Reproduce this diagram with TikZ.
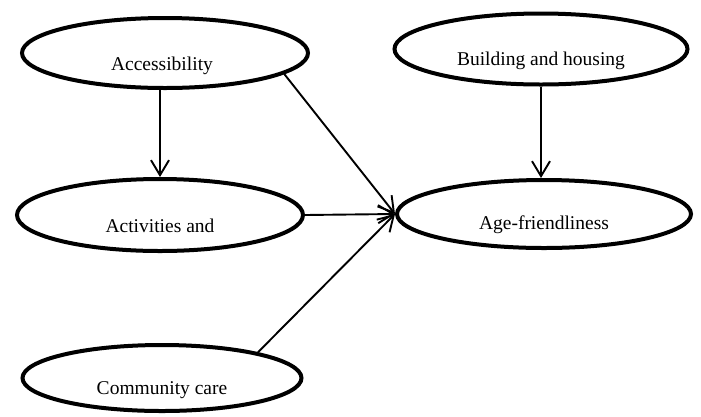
\documentclass[tikz,border=0pt]{standalone}
\usepackage{fontspec}
\setmainfont{Liberation Serif}
\usetikzlibrary{shapes.geometric,arrows.meta}
\tikzset{
  oval/.style={ellipse, draw=black, line width=4pt, fill=white, inner sep=0pt},
  lbl/.style={anchor=base, inner sep=0pt, font=\fontsize{19.5}{22}\selectfont},
  arr/.style={line width=1.9pt, -{Straight Barb[length=15pt,width=18pt,line width=1.9pt]}}
}
\begin{document}
\begin{tikzpicture}[x=1pt,y=-1pt]
\useasboundingbox (0,0) rectangle (701,416);
% ellipses
\node[oval, minimum width=286pt, minimum height=70pt] (acc) at (165,53) {};
\node[oval, minimum width=293pt, minimum height=71pt] (bld) at (541,49) {};
\node[oval, minimum width=286pt, minimum height=72pt] (act) at (160,215) {};
\node[oval, minimum width=279pt, minimum height=66pt] (com) at (162,378) {};
\node[oval, minimum width=294pt, minimum height=68pt] (age) at (544,214) {};
% labels
\node[lbl] (tacc) at (162,70) {Accessibility};
\node[lbl] (tbld) at (541,65) {Building and housing};
\node[lbl] (tact) at (160,232) {Activities and};
\node[lbl] (tcom) at (162,394) {Community care};
\node[lbl] (tage) at (544,229) {Age-friendliness};
% connectors
\draw[arr] (acc.south -| act.north) -- (act.north);
\draw[arr] (bld.south) -- (bld.south |- age.north);
\draw[arr] (acc.-10) -- (age.west);
\draw[arr] (act.east) -- (age.west);
\draw[arr] (com.15) -- (age.west);
\end{tikzpicture}
\end{document}
